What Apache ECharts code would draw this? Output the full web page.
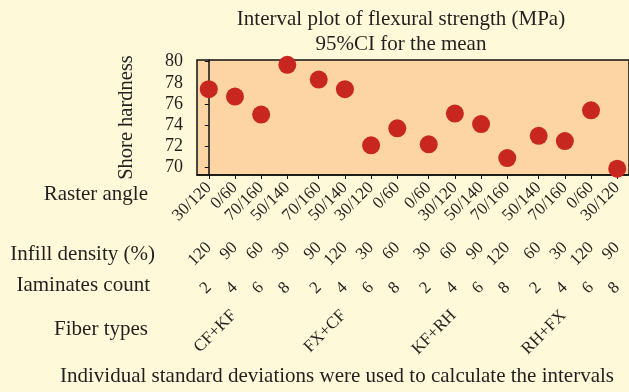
<!DOCTYPE html>
<html>
<head>
<meta charset="utf-8">
<script src="https://cdn.jsdelivr.net/npm/echarts@6/dist/echarts.min.js"></script>
<style>
  html, body { margin: 0; padding: 0; background: #fef9d8; }
  #chart { width: 629px; height: 392px; }
</style>
</head>
<body>
<div id="chart"></div>
<script>
// Experimental runs: one point per run, grouped by fiber pair
const fiberTypes = ['CF+KF', 'FX+CF', 'KF+RH', 'RH+FX'];
const runFiber = ['CF+KF', 'CF+KF', 'CF+KF', 'CF+KF',
                  'FX+CF', 'FX+CF', 'FX+CF', 'FX+CF',
                  'KF+RH', 'KF+RH', 'KF+RH', 'KF+RH',
                  'RH+FX', 'RH+FX', 'RH+FX', 'RH+FX'];
const rasterAngle = ['30/120', '0/60', '70/160', '50/140', '70/160', '50/140', '30/120', '0/60',
                     '0/60', '30/120', '50/140', '70/160', '50/140', '70/160', '0/60', '30/120'];
const infillDensity = [120, 90, 60, 30, 90, 120, 30, 60, 30, 60, 90, 120, 60, 30, 120, 90];
const laminatesCount = [2, 4, 6, 8, 2, 4, 6, 8, 2, 4, 6, 8, 2, 4, 6, 8];
const shoreHardness = [77.4, 76.7, 75.0, 79.7, 78.3, 77.4, 72.1, 73.7,
                       72.2, 75.1, 74.1, 70.9, 73.0, 72.5, 75.4, 69.9];
const yTicks = [70, 72, 74, 76, 78, 80];

// Layout constants
const GROUP_GAP = 0.2;          // extra space between fiber groups, in run units
const FIBER_LABEL_SHIFT = -0.55; // fiber names sit slightly left of their group's centre
const X_MIN = -0.45, X_MAX = 16.05;
const FONT = '"Liberation Serif", "DejaVu Serif", serif';
const INK = '#231f20';

// x position of each run: run index plus a small gap between fiber groups
const xPos = runFiber.map((f, i) => i + GROUP_GAP * fiberTypes.indexOf(f));
const fiberLabelPos = fiberTypes.map(f => {
  const xs = xPos.filter((_, i) => runFiber[i] === f);
  return xs.reduce((a, b) => a + b, 0) / xs.length + FIBER_LABEL_SHIFT;
});

function lookup(values, positions) {
  return function (v) {
    const k = positions.findIndex(p => Math.abs(p - v) < 1e-6);
    return k < 0 ? '' : String(values[k]);
  };
}

// An extra row of rotated category labels under the plot
function labelRow(values, positions, offset) {
  return {
    gridIndex: 0,
    type: 'value',
    min: X_MIN,
    max: X_MAX,
    position: 'bottom',
    offset: offset,
    axisLine: { show: false },
    axisTick: { show: false },
    splitLine: { show: false },
    axisLabel: {
      customValues: positions,
      formatter: lookup(values, positions),
      rotate: 45,
      margin: 0,
      color: INK,
      fontFamily: FONT,
      fontSize: 17
    }
  };
}

const chart = echarts.init(document.getElementById('chart'), null, { renderer: 'canvas' });

// Row headings on the left, right-aligned; y is the text's vertical middle
const rowTitle = (text, right, y) => ({
  type: 'text',
  x: right,
  y: y,
  style: { text: text, fill: INK, font: '21px ' + FONT, align: 'right', verticalAlign: 'middle' }
});

chart.setOption({
  backgroundColor: '#fef9d8',
  animation: false,
  title: {
    text: 'Interval plot of flexural strength (MPa)\n95%CI for the mean',
    left: 401,
    top: 7,
    padding: 0,
    textAlign: 'center',
    textStyle: { fontFamily: FONT, fontSize: 21, fontWeight: 'normal', color: INK, lineHeight: 25 }
  },
  grid: [
    { left: 197, right: -3, top: 60, height: 115, show: true,
      backgroundColor: '#fdd4a4', borderColor: '#111', borderWidth: 1.5 }
  ],
  xAxis: [
    {
      gridIndex: 0, type: 'value', min: X_MIN, max: X_MAX, position: 'bottom',
      axisLine: { show: true, lineStyle: { color: '#111', width: 1.5 } },
      axisTick: { show: true, customValues: xPos, length: 4, lineStyle: { color: '#111' } },
      splitLine: { show: false },
      axisLabel: {
        customValues: xPos, formatter: lookup(rasterAngle, xPos), rotate: 45, margin: 10,
        color: INK, fontFamily: FONT, fontSize: 17
      }
    },
    labelRow(infillDensity, xPos, 70),
    labelRow(laminatesCount, xPos, 110),
    labelRow(fiberTypes, fiberLabelPos, 138)
  ],
  yAxis: [
    {
      gridIndex: 0, type: 'value', min: 69.3, max: 80.15,
      name: 'Shore hardness', nameLocation: 'middle', nameGap: 60,
      nameTextStyle: { fontFamily: FONT, fontSize: 20.5, color: INK },
      axisLine: { show: true, lineStyle: { color: '#111', width: 1.5 } },
      axisTick: { show: true, customValues: yTicks, length: 4, lineStyle: { color: '#111' } },
      axisLabel: { customValues: yTicks, margin: 14, color: INK, fontFamily: FONT, fontSize: 18 },
      splitLine: { show: false }
    }
  ],
  series: [{
    type: 'scatter',
    xAxisIndex: 0,
    yAxisIndex: 0,
    symbol: 'circle',
    symbolSize: 18,
    itemStyle: { color: '#c8271f', opacity: 1 },
    data: shoreHardness.map((v, i) => [xPos[i], v])
  }],
  graphic: [
    rowTitle('Raster angle', 148, 194),
    rowTitle('Infill density (%)', 155, 254),
    rowTitle('Iaminates count', 150, 285),
    rowTitle('Fiber types', 148, 329),
    {
      type: 'text', x: 60, y: 376,
      style: { text: 'Individual standard deviations were used to calculate the intervals',
               fill: INK, font: '21px ' + FONT, align: 'left', verticalAlign: 'middle' }
    }
  ]
});
</script>
</body>
</html>
